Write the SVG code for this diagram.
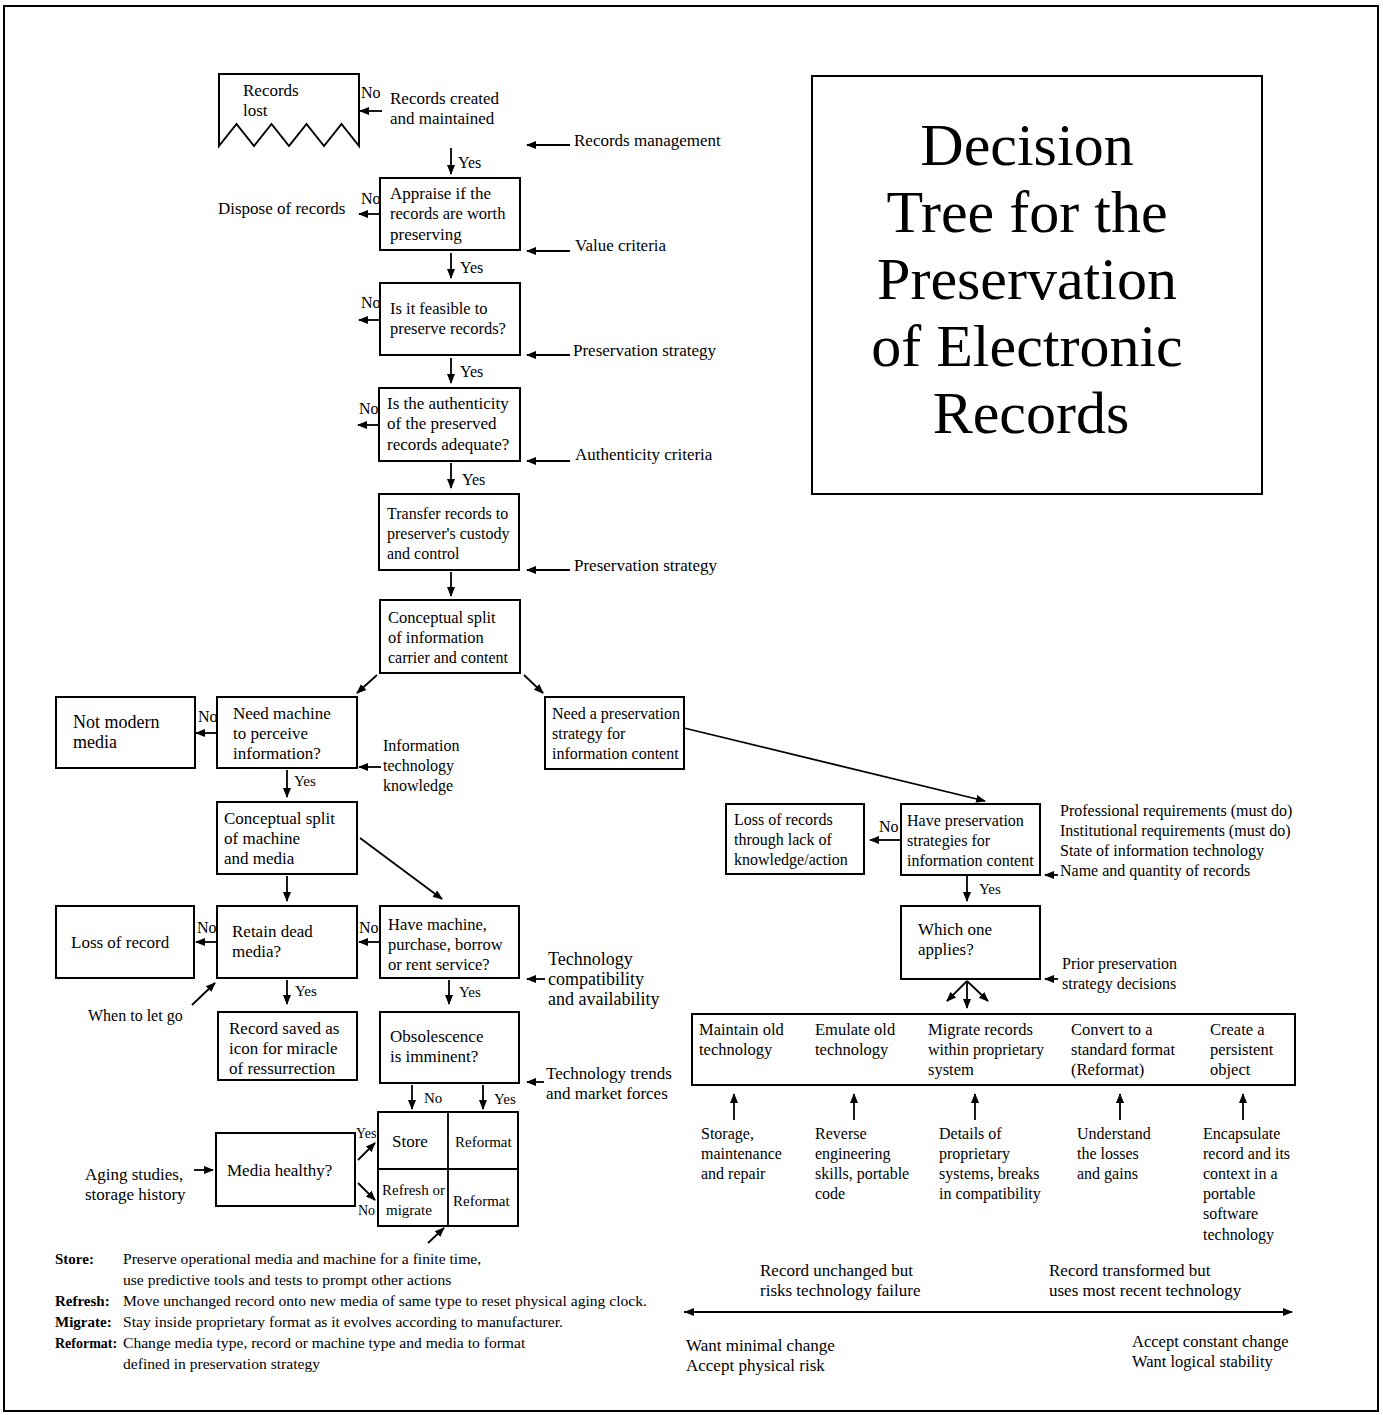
<svg xmlns="http://www.w3.org/2000/svg" width="1383" height="1415" viewBox="0 0 1383 1415">
<defs>
<style>
text{font-family:"Liberation Serif","Times New Roman",serif;font-size:17px;fill:#000}
.s16{font-size:16px}
.s165{font-size:16.5px}
.s18{font-size:18px}
.s15{font-size:15px}
.s14{font-size:14px}
.lg{font-size:15.6px}
.b{font-weight:bold}
.title{font-size:60px;text-anchor:middle}
.box{fill:#fff;stroke:#000;stroke-width:2}
.ln{fill:none;stroke:#000;stroke-width:1.8}
.arr{fill:none;stroke:#000;stroke-width:1.8;marker-end:url(#ah)}
</style>
<marker id="ah" viewBox="0 0 10 10" refX="9" refY="5" markerWidth="10" markerHeight="10" markerUnits="userSpaceOnUse" orient="auto"><path d="M0,1 L10,5 L0,9 z" fill="#000"/></marker>
<marker id="as" viewBox="0 0 10 10" refX="0" refY="5" markerWidth="10" markerHeight="10" markerUnits="userSpaceOnUse" orient="auto"><path d="M10,1 L0,5 L10,9 z" fill="#000"/></marker>
</defs>
<rect x="4" y="6" width="1374" height="1405" fill="#fff" stroke="#000" stroke-width="2"/>

<g id="title">
<rect class="box" x="812" y="76" width="450" height="418"/>
<text class="title" x="1027" y="165">Decision</text>
<text class="title" x="1027" y="232">Tree for the</text>
<text class="title" x="1027" y="299">Preservation</text>
<text class="title" x="1027" y="366">of Electronic</text>
<text class="title" x="1031" y="433">Records</text>
</g>

<g id="records-lost">
<path class="box" d="M219,74 H359 V146 L341.5,124 L324,146 L306.5,124 L289,146 L271.5,124 L254,146 L236.5,124 L219,146 Z"/>
<text x="243" y="96">Records</text>
<text x="243" y="116">lost</text>
</g>
<g id="records-created">
<text x="390" y="104">Records created</text>
<text x="390" y="124">and maintained</text>
</g>
<g id="appraise">
<rect class="box" x="380" y="178" width="140" height="72"/>
<text x="390" y="199">Appraise if the</text>
<text x="390" y="219" class="s165">records are worth</text>
<text x="390" y="240">preserving</text>
</g>
<g id="dispose"><text x="218" y="214">Dispose of records</text></g>
<g id="feasible">
<rect class="box" x="380" y="283" width="140" height="72"/>
<text x="390" y="314" class="s165">Is it feasible to</text>
<text x="390" y="334" class="s165">preserve records?</text>
</g>
<g id="authenticity">
<rect class="box" x="379" y="388" width="141" height="73"/>
<text x="387" y="409">Is the authenticity</text>
<text x="387" y="429">of the preserved</text>
<text x="387" y="450">records adequate?</text>
</g>
<g id="transfer">
<rect class="box" x="379" y="494" width="140" height="76"/>
<text x="387" y="519" class="s16">Transfer records to</text>
<text x="387" y="539" class="s16">preserver's custody</text>
<text x="387" y="559" class="s16">and control</text>
</g>
<g id="split-info">
<rect class="box" x="380" y="600" width="140" height="73"/>
<text x="388" y="623" class="s165">Conceptual split</text>
<text x="388" y="643" class="s165">of information</text>
<text x="388" y="663" class="s16">carrier and content</text>
</g>
<g id="need-machine">
<rect class="box" x="217" y="697" width="140" height="71"/>
<text x="233" y="719">Need machine</text>
<text x="233" y="739">to perceive</text>
<text x="233" y="759">information?</text>
</g>
<g id="not-modern">
<rect class="box" x="56" y="697" width="139" height="71"/>
<text class="s18" x="73" y="728">Not modern</text>
<text class="s18" x="73" y="748">media</text>
</g>
<g id="split-machine">
<rect class="box" x="217" y="802" width="140" height="72"/>
<text x="224" y="824">Conceptual split</text>
<text x="224" y="844">of machine</text>
<text x="224" y="864">and media</text>
</g>
<g id="retain">
<rect class="box" x="217" y="906" width="140" height="72"/>
<text x="232" y="937">Retain dead</text>
<text x="232" y="957">media?</text>
</g>
<g id="loss-record">
<rect class="box" x="56" y="906" width="138" height="72"/>
<text x="71" y="948">Loss of record</text>
</g>
<g id="have-machine">
<rect class="box" x="380" y="906" width="139" height="72"/>
<text x="388" y="930" class="s165">Have machine,</text>
<text x="388" y="950" class="s165">purchase, borrow</text>
<text x="388" y="970" class="s165">or rent service?</text>
</g>
<g id="icon">
<rect class="box" x="218" y="1012" width="139" height="68"/>
<text x="229" y="1034">Record saved as</text>
<text x="229" y="1054">icon for miracle</text>
<text x="229" y="1074">of ressurrection</text>
</g>
<g id="obsolescence">
<rect class="box" x="380" y="1012" width="139" height="71"/>
<text x="390" y="1042">Obsolescence</text>
<text x="390" y="1062">is imminent?</text>
</g>
<g id="grid">
<rect class="box" x="378" y="1112" width="140" height="114"/>
<line class="ln" x1="448" y1="1112" x2="448" y2="1226"/>
<line class="ln" x1="378" y1="1169" x2="518" y2="1169"/>
<text x="392" y="1147">Store</text>
<text x="455" y="1147" class="s15">Reformat</text>
<text x="382" y="1195" class="s15">Refresh or</text>
<text x="386" y="1215" class="s15">migrate</text>
<text x="453" y="1206" class="s15">Reformat</text>
</g>
<g id="media-healthy">
<rect class="box" x="216" y="1133" width="139" height="73"/>
<text x="227" y="1176">Media healthy?</text>
</g>
<g id="need-strategy">
<rect class="box" x="545" y="697" width="139" height="72"/>
<text class="s16" x="552" y="719">Need a preservation</text>
<text class="s16" x="552" y="739">strategy for</text>
<text class="s16" x="552" y="759">information content</text>
</g>
<g id="have-strategies">
<rect class="box" x="901" y="804" width="139" height="71"/>
<text class="s16" x="907" y="826">Have preservation</text>
<text class="s16" x="907" y="846">strategies for</text>
<text class="s16" x="907" y="866">information content</text>
</g>
<g id="loss-records">
<rect class="box" x="726" y="804" width="138" height="70"/>
<text class="s16" x="734" y="825">Loss of records</text>
<text class="s16" x="734" y="845">through lack of</text>
<text class="s16" x="734" y="865">knowledge/action</text>
</g>
<g id="which-one">
<rect class="box" x="901" y="906" width="139" height="73"/>
<text x="918" y="935">Which one</text>
<text x="918" y="955">applies?</text>
</g>
<g id="options">
<rect class="box" x="692" y="1014" width="603" height="71"/>
<text x="699" y="1035" class="s165">Maintain old</text>
<text x="699" y="1055" class="s165">technology</text>
<text x="815" y="1035" class="s165">Emulate old</text>
<text x="815" y="1055" class="s165">technology</text>
<text x="928" y="1035" class="s165">Migrate records</text>
<text x="928" y="1055" class="s16">within proprietary</text>
<text x="928" y="1075" class="s165">system</text>
<text x="1071" y="1035" class="s165">Convert to a</text>
<text x="1071" y="1055" class="s165">standard format</text>
<text x="1071" y="1075" class="s165">(Reformat)</text>
<text x="1210" y="1035" class="s165">Create a</text>
<text x="1210" y="1055" class="s165">persistent</text>
<text x="1210" y="1075" class="s165">object</text>
</g>

<g id="labels">
<text x="574" y="146">Records management</text>
<text x="575" y="251">Value criteria</text>
<text x="573" y="356">Preservation strategy</text>
<text x="575" y="460">Authenticity criteria</text>
<text x="574" y="571">Preservation strategy</text>
<text x="383" y="751" class="s16">Information</text>
<text x="383" y="771" class="s16">technology</text>
<text x="383" y="791" class="s16">knowledge</text>
<text x="548" y="965" class="s18">Technology</text>
<text x="548" y="985" class="s18">compatibility</text>
<text x="548" y="1005" class="s18">and availability</text>
<text x="88" y="1021" class="s16">When to let go</text>
<text x="546" y="1079">Technology trends</text>
<text x="546" y="1099">and market forces</text>
<text x="85" y="1180">Aging studies,</text>
<text x="85" y="1200">storage history</text>
<text x="1060" y="816" class="s16">Professional requirements (must do)</text>
<text x="1060" y="836" class="s16">Institutional requirements (must do)</text>
<text x="1060" y="856" class="s16">State of information technology</text>
<text x="1060" y="876" class="s16">Name and quantity of records</text>
<text x="1062" y="969" class="s16">Prior preservation</text>
<text x="1062" y="989" class="s16">strategy decisions</text>
<text x="701" y="1139" class="s16">Storage,</text>
<text x="701" y="1159" class="s16">maintenance</text>
<text x="701" y="1179" class="s16">and repair</text>
<text x="815" y="1139" class="s16">Reverse</text>
<text x="815" y="1159" class="s16">engineering</text>
<text x="815" y="1179" class="s16">skills, portable</text>
<text x="815" y="1199" class="s16">code</text>
<text x="939" y="1139" class="s16">Details of</text>
<text x="939" y="1159" class="s16">proprietary</text>
<text x="939" y="1179" class="s16">systems, breaks</text>
<text x="939" y="1199" class="s16">in compatibility</text>
<text x="1077" y="1139" class="s16">Understand</text>
<text x="1077" y="1159" class="s16">the losses</text>
<text x="1077" y="1179" class="s16">and gains</text>
<text x="1203" y="1139" class="s16">Encapsulate</text>
<text x="1203" y="1159" class="s16">record and its</text>
<text x="1203" y="1179" class="s16">context in a</text>
<text x="1203" y="1199" class="s16">portable</text>
<text x="1203" y="1219" class="s16">software</text>
<text x="1203" y="1240" class="s16">technology</text>
<text x="760" y="1276">Record unchanged but</text>
<text x="760" y="1296">risks technology failure</text>
<text x="1049" y="1276">Record transformed but</text>
<text x="1049" y="1296">uses most recent technology</text>
<text x="686" y="1351">Want minimal change</text>
<text x="686" y="1371">Accept physical risk</text>
<text x="1132" y="1347" class="s165">Accept constant change</text>
<text x="1132" y="1367" class="s165">Want logical stability</text>
</g>

<g id="legend">
<text x="55" y="1264" class="s15 b">Store:</text>
<text x="123" y="1264" class="lg">Preserve operational media and machine for a finite time,</text>
<text x="123" y="1285" class="lg">use predictive tools and tests to prompt other actions</text>
<text x="55" y="1306" class="s15 b">Refresh:</text>
<text x="123" y="1306" class="lg">Move unchanged record onto new media of same type to reset physical aging clock.</text>
<text x="55" y="1327" class="s15 b">Migrate:</text>
<text x="123" y="1327" class="lg">Stay inside proprietary format as it evolves according to manufacturer.</text>
<text x="55" y="1348" class="s14 b">Reformat:</text>
<text x="123" y="1348" class="lg">Change media type, record or machine type and media to format</text>
<text x="123" y="1369" class="lg">defined in preservation strategy</text>
</g>

<g id="connectors">
<line class="arr" x1="382" y1="111" x2="360" y2="111"/>
<text x="361" y="98" class="s16">No</text>
<line class="arr" x1="451" y1="148" x2="451" y2="174"/>
<text x="458" y="168" class="s16">Yes</text>
<line class="arr" x1="570" y1="145" x2="527" y2="145"/>
<line class="arr" x1="380" y1="214" x2="359" y2="214"/>
<text x="361" y="204" class="s16">No</text>
<line class="arr" x1="570" y1="251" x2="527" y2="251"/>
<line class="arr" x1="451" y1="253" x2="451" y2="278"/>
<text x="460" y="273" class="s16">Yes</text>
<line class="arr" x1="380" y1="320" x2="359" y2="320"/>
<text x="361" y="308" class="s16">No</text>
<line class="arr" x1="570" y1="355" x2="527" y2="355"/>
<line class="arr" x1="451" y1="358" x2="451" y2="383"/>
<text x="460" y="377" class="s16">Yes</text>
<line class="arr" x1="379" y1="425" x2="358" y2="425"/>
<text x="359" y="414" class="s16">No</text>
<line class="arr" x1="570" y1="461" x2="527" y2="461"/>
<line class="arr" x1="451" y1="463" x2="451" y2="488"/>
<text x="462" y="485" class="s16">Yes</text>
<line class="arr" x1="570" y1="570" x2="527" y2="570"/>
<line class="arr" x1="451" y1="572" x2="451" y2="596"/>
<line class="arr" x1="377" y1="675" x2="357" y2="693"/>
<line class="arr" x1="524" y1="675" x2="543" y2="693"/>
<line class="arr" x1="217" y1="733" x2="196" y2="733"/>
<text x="198" y="722" class="s16">No</text>
<line class="arr" x1="381" y1="767" x2="359" y2="767"/>
<line class="arr" x1="287" y1="770" x2="287" y2="797"/>
<text x="294" y="786" class="s15">Yes</text>
<line class="arr" x1="684" y1="728" x2="985" y2="801"/>
<line class="arr" x1="287" y1="876" x2="287" y2="901"/>
<line class="arr" x1="360" y1="838" x2="442" y2="899"/>
<line class="arr" x1="217" y1="942" x2="196" y2="942"/>
<text x="197" y="933" class="s16">No</text>
<line class="arr" x1="380" y1="942" x2="359" y2="942"/>
<text x="359" y="933" class="s16">No</text>
<line class="arr" x1="545" y1="979" x2="527" y2="979"/>
<line class="arr" x1="287" y1="980" x2="287" y2="1004"/>
<text x="295" y="996" class="s15">Yes</text>
<line class="arr" x1="449" y1="980" x2="449" y2="1004"/>
<text x="459" y="997" class="s15">Yes</text>
<line class="arr" x1="192" y1="1005" x2="215" y2="983"/>
<line class="arr" x1="544" y1="1082" x2="527" y2="1082"/>
<line class="arr" x1="412" y1="1085" x2="412" y2="1109"/>
<text x="424" y="1103" class="s15">No</text>
<line class="arr" x1="483" y1="1085" x2="483" y2="1109"/>
<text x="494" y="1104" class="s15">Yes</text>
<line class="arr" x1="194" y1="1170" x2="213" y2="1170"/>
<line class="arr" x1="358" y1="1160" x2="375" y2="1143"/>
<text x="356" y="1138" class="s14">Yes</text>
<line class="arr" x1="358" y1="1183" x2="375" y2="1200"/>
<text x="358" y="1215" class="s14">No</text>
<line class="arr" x1="428" y1="1243" x2="444" y2="1228"/>
<line class="arr" x1="901" y1="840" x2="870" y2="840"/>
<text x="879" y="832" class="s16">No</text>
<line class="arr" x1="1058" y1="875" x2="1045" y2="875"/>
<line class="arr" x1="967" y1="876" x2="967" y2="901"/>
<text x="979" y="894" class="s15">Yes</text>
<line class="arr" x1="1058" y1="979" x2="1045" y2="979"/>
<line class="arr" x1="967" y1="981" x2="967" y2="1008"/>
<line class="arr" x1="967" y1="981" x2="947" y2="1001"/>
<line class="arr" x1="967" y1="981" x2="988" y2="1001"/>
<line class="arr" x1="734" y1="1120" x2="734" y2="1094"/>
<line class="arr" x1="854" y1="1120" x2="854" y2="1094"/>
<line class="arr" x1="975" y1="1120" x2="975" y2="1094"/>
<line class="arr" x1="1120" y1="1120" x2="1120" y2="1094"/>
<line class="arr" x1="1243" y1="1120" x2="1243" y2="1094"/>
<line class="arr" x1="684" y1="1312" x2="1292" y2="1312" marker-start="url(#as)"/>
</g>
</svg>
